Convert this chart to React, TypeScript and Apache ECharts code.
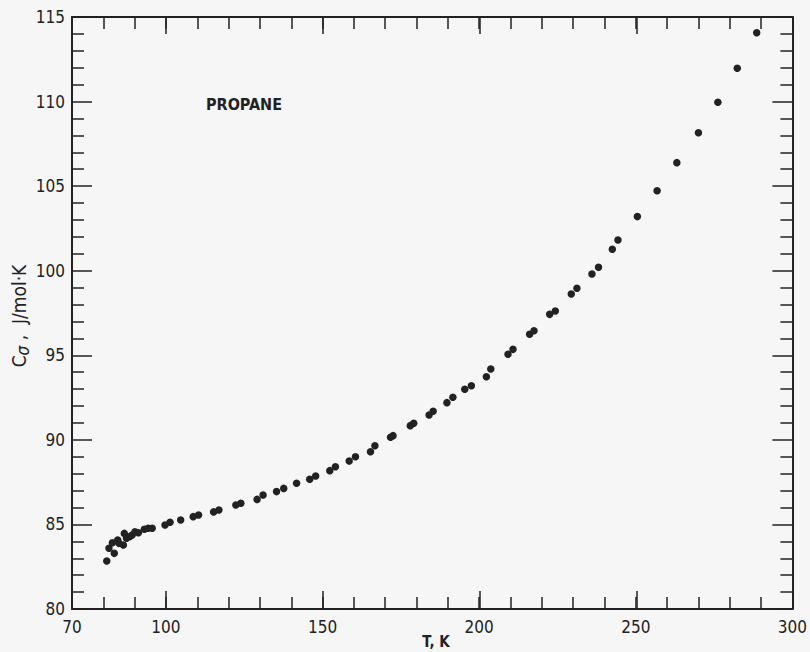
import React, { useEffect, useRef } from "react";
import * as echarts from "echarts";

const temperatureK = [
  81.1, 81.8, 82.9, 83.5, 84.6, 85.0, 86.4, 86.7, 87.4, 88.5, 89.2, 90.1, 91.2, 93.1, 94.3, 95.6,
  99.7, 101.3, 104.7, 108.7, 110.4, 115.2, 116.9, 122.3, 123.9, 129.1, 131.0, 135.3, 137.6, 141.7,
  145.9, 147.8, 152.3, 154.1, 158.5, 160.5, 165.3, 166.7, 171.7, 172.5, 178.0, 179.1, 184.0, 185.3,
  189.7, 191.6, 195.4, 197.5, 202.3, 203.7, 209.2, 210.8, 216.1, 217.5, 222.5, 224.3, 229.4, 231.2,
  236.0, 238.1, 242.5, 244.3, 250.5, 256.8, 263.1, 270.0, 276.2, 282.4, 288.6,
];
const heatCapacity = [
  82.84, 83.59, 83.92, 83.29, 84.08, 83.88, 83.78, 84.47, 84.18, 84.28, 84.37, 84.57, 84.51, 84.71,
  84.77, 84.77, 84.97, 85.13, 85.26, 85.46, 85.56, 85.74, 85.85, 86.15, 86.25, 86.48, 86.74, 86.94,
  87.13, 87.43, 87.67, 87.86, 88.18, 88.41, 88.75, 89.0, 89.3, 89.65, 90.15, 90.25, 90.84, 90.98,
  91.47, 91.69, 92.2, 92.52, 92.99, 93.2, 93.73, 94.19, 95.06, 95.35, 96.24, 96.45, 97.42, 97.62,
  98.62, 98.96, 99.81, 100.2, 101.27, 101.82, 103.2, 104.73, 106.39, 108.16, 109.96, 111.97, 114.07,
];
const xLabelValues = [70, 100, 150, 200, 250, 300];
const chartLabel = "PROPANE";
const xTitle = "T, K";

const FONT = "'Liberation Sans Narrow', 'DejaVu Sans Condensed', 'Liberation Sans', sans-serif";
const INK = "#222222";

export default function App() {
  const ref = useRef<HTMLDivElement>(null);
  useEffect(() => {
    if (!ref.current) return;
    const chart = echarts.init(ref.current, undefined, { renderer: "svg" });
    const lineStyle = { color: INK, width: 2 };
    const grids = [
      { left: 72, right: 17, top: 17, bottom: 43 },
      { left: 72 + 30 * (721 / 230), right: 17, top: 17, bottom: 43 },
    ];
    const baseX = {
      type: "value",
      min: 70,
      max: 300,
      interval: 10,
      gridIndex: 0,
      axisLine: { show: true, lineStyle },
      axisTick: { show: true, inside: true, length: 12, lineStyle: { color: INK, width: 1.5 } },
      splitLine: { show: false },
    };
    const majorX = {
      type: "value",
      min: 100,
      max: 300,
      interval: 50,
      gridIndex: 1,
      axisLine: { show: false },
      axisLabel: { show: false },
      axisTick: { show: true, inside: true, length: 18, lineStyle: { color: INK, width: 1.5 } },
      splitLine: { show: false },
    };
    const baseY = {
      type: "value",
      min: 80,
      max: 115,
      interval: 5,
      gridIndex: 0,
      axisLine: { show: true, lineStyle },
      axisTick: { show: true, inside: true, length: 20, lineStyle: { color: INK, width: 1.5 } },
      minorTick: { show: true, splitNumber: 5, length: 12, lineStyle: { color: INK, width: 1.5 } },
      splitLine: { show: false },
      minorSplitLine: { show: false },
    };
    const labelStyle = { fontFamily: FONT, fontSize: 17, fontWeight: 500, color: INK };
    chart.setOption({
      animation: false,
      backgroundColor: "#f6f6f6",
      grid: grids,
      xAxis: [
        {
          ...baseX,
          position: "bottom",
          axisLabel: {
            show: true,
            margin: 9,
            ...labelStyle,
            formatter: (v: number) => (xLabelValues.includes(v) ? String(v) : ""),
          },
        },
        { ...baseX, position: "top", axisLabel: { show: false } },
        { ...majorX, position: "bottom" },
        { ...majorX, position: "top", axisTick: { ...majorX.axisTick, length: 17 } },
      ],
      yAxis: [
        {
          ...baseY,
          position: "left",
          axisLabel: { show: true, margin: 7, ...labelStyle },
        },
        { ...baseY, position: "right", axisLabel: { show: false } },
        {
          type: "value",
          min: 80,
          max: 115,
          gridIndex: 1,
          show: false,
        },
      ],
      graphic: [
        {
          type: "text",
          left: 206,
          top: 96,
          style: { text: chartLabel, font: `bold 16px ${FONT}`, fill: INK },
        },
        {
          type: "text",
          x: 436,
          y: 642,
          style: {
            text: xTitle,
            font: `bold 15px ${FONT}`,
            fill: INK,
            textAlign: "center",
            textVerticalAlign: "middle",
          },
        },
        {
          type: "text",
          x: 19,
          y: 316,
          rotation: Math.PI / 2,
          style: {
            text: "{a|C}{b|σ}{a| ,  J/mol·K}",
            textAlign: "center",
            textVerticalAlign: "middle",
            fill: INK,
            rich: {
              a: { fontFamily: FONT, fontSize: 19, fontWeight: 500, fill: INK, color: INK },
              b: { fontFamily: FONT, fontSize: 17, fontStyle: "italic", fill: INK, color: INK, padding: [8, 0, 0, 0] },
            },
          },
        },
      ],
      series: [
        {
          type: "scatter",
          xAxisIndex: 0,
          yAxisIndex: 0,
          symbol: "circle",
          symbolSize: 7.5,
          itemStyle: { color: INK, opacity: 1 },
          data: temperatureK.map((t, i) => [t, heatCapacity[i]]),
        },
        {
          type: "scatter",
          xAxisIndex: 2,
          yAxisIndex: 2,
          data: [],
        },
      ],
    });
    return () => chart.dispose();
  }, []);
  return <div ref={ref} style={{ width: 810, height: 652, position: "absolute", left: 0, top: 0 }} />;
}
